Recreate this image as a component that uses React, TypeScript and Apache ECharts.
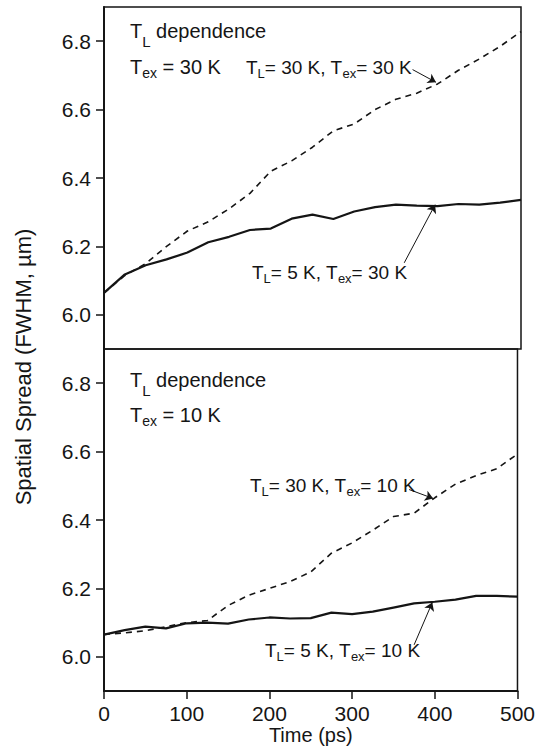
import { useEffect, useRef } from "react";
import * as echarts from "echarts";

// Time axis (ps), sampled every 25 ps
const timePs = [0, 25, 50, 75, 100, 125, 150, 175, 200, 225, 250, 275, 300, 325, 350, 375, 400, 425, 450, 475, 500];

// Upper panel, T_ex = 30 K
const tl30Tex30 = [6.064, 6.115, 6.15, 6.2, 6.245, 6.272, 6.31, 6.355, 6.42, 6.45, 6.49, 6.538, 6.558, 6.6, 6.63, 6.648, 6.675, 6.715, 6.748, 6.785, 6.828];
const tl5Tex30 = [6.064, 6.118, 6.145, 6.162, 6.182, 6.212, 6.228, 6.248, 6.252, 6.281, 6.293, 6.28, 6.302, 6.315, 6.322, 6.319, 6.318, 6.324, 6.322, 6.328, 6.336];

// Lower panel, T_ex = 10 K
const tl30Tex10 = [6.065, 6.07, 6.076, 6.088, 6.1, 6.106, 6.15, 6.18, 6.2, 6.22, 6.248, 6.303, 6.333, 6.37, 6.41, 6.42, 6.465, 6.505, 6.53, 6.55, 6.593];
const tl5Tex10 = [6.065, 6.078, 6.088, 6.083, 6.098, 6.1, 6.097, 6.109, 6.115, 6.112, 6.113, 6.129, 6.125, 6.132, 6.144, 6.156, 6.161, 6.167, 6.178, 6.178, 6.176];

// Tick values
const yTickValues = [6.0, 6.2, 6.4, 6.6, 6.8];
const yRange = [5.9, 6.9];
const xRange = [0, 500];
const xInterval = 100;

// Arrow annotations: [start, tip] in data coordinates
const arrowTl30Tex30 = [[370, 6.717], [398, 6.68]];
const arrowTl5Tex30 = [[360, 6.152], [397, 6.322]];
const arrowTl30Tex10 = [[369, 6.489], [398, 6.463]];
const arrowTl5Tex10 = [[375, 6.035], [397, 6.159]];

const FONT = "'Liberation Sans', Arial, Helvetica, sans-serif";
const INK = "#151515";

const toPoints = (ys: number[]) => timePs.map((t, i) => [t, ys[i]]);

const richStyles = {
  m: { fontSize: 20, fontFamily: FONT, fill: INK },
  s: { fontSize: 14, fontFamily: FONT, fill: INK, padding: [12, 0, 0, 0] },
  sl: { fontSize: 15, fontFamily: FONT, fill: INK, padding: [20, 0, 0, 0] },
  c: { fontSize: 19, fontFamily: FONT, fill: INK },
  cs: { fontSize: 13, fontFamily: FONT, fill: INK, padding: [12, 0, 0, 0] },
};

function label(x: number, y: number, text: string) {
  return {
    type: "text",
    x,
    y,
    silent: true,
    style: {
      text,
      rich: richStyles,
      fill: INK,
      font: `20px ${FONT}`,
      textAlign: "left",
      textVerticalAlign: "middle",
    },
  };
}

// Curve label of the form "T_L= a K, T_ex= b K"
function curveLabel(x: number, y: number, tl: string, tex: string) {
  return label(x, y, `{c|T}{cs|L}{c|= ${tl} K, T}{cs|ex}{c|= ${tex} K}`);
}

function arrow(pts: number[][]) {
  return {
    silent: true,
    symbol: ["none", "arrow"],
    symbolSize: 8,
    label: { show: false },
    lineStyle: { type: "solid", width: 1, color: INK },
    emphasis: { disabled: true },
    data: [[{ coord: pts[0] }, { coord: pts[1] }]],
  };
}

function yAxisFor(gridIndex: number) {
  return {
    type: "value",
    gridIndex,
    min: yRange[0],
    max: yRange[1],
    axisLine: { show: true, lineStyle: { color: INK, width: 2 } },
    axisTick: {
      show: true,
      inside: false,
      length: 8,
      customValues: yTickValues,
      lineStyle: { color: INK, width: 1.5 },
    },
    axisLabel: {
      customValues: yTickValues,
      formatter: (v: number) => v.toFixed(1),
      margin: 13,
      color: INK,
      fontSize: 21,
      fontFamily: FONT,
    },
    splitLine: { show: false },
  };
}

function curve(data: number[], idx: number, dashed: boolean, mark: number[][]) {
  return {
    type: "line",
    xAxisIndex: idx,
    yAxisIndex: idx,
    data: toPoints(data),
    showSymbol: false,
    symbol: "none",
    silent: true,
    lineStyle: dashed
      ? { color: INK, width: 1.6, type: [6, 5] }
      : { color: INK, width: 2.2, type: "solid" },
    markLine: arrow(mark),
    z: 3,
  };
}

export default function App() {
  const ref = useRef<HTMLDivElement>(null);

  useEffect(() => {
    if (!ref.current) return;
    const chart = echarts.init(ref.current, undefined, { renderer: "svg" });
    chart.setOption({
      animation: false,
      backgroundColor: "#ffffff",
      grid: [
        { left: 104, right: 17, top: 7, height: 342, show: true, borderColor: INK, borderWidth: 1.5, backgroundColor: "transparent" },
        { left: 104, right: 17, top: 349, height: 342, show: true, borderColor: INK, borderWidth: 1.5, backgroundColor: "transparent" },
      ],
      xAxis: [
        {
          type: "value",
          gridIndex: 0,
          min: xRange[0],
          max: xRange[1],
          interval: xInterval,
          axisLine: { show: false },
          axisTick: { show: false },
          axisLabel: { show: false },
          splitLine: { show: false },
        },
        {
          type: "value",
          gridIndex: 1,
          min: xRange[0],
          max: xRange[1],
          interval: xInterval,
          name: "Time (ps)",
          nameLocation: "middle",
          nameGap: 30,
          nameTextStyle: { color: INK, fontSize: 20, fontFamily: FONT },
          axisLine: { show: true, onZero: false, lineStyle: { color: INK, width: 2 } },
          axisTick: { show: true, inside: false, length: 8, lineStyle: { color: INK, width: 1.5 } },
          axisLabel: { color: INK, fontSize: 21, fontFamily: FONT, margin: 12, showMinLabel: true, showMaxLabel: true },
          splitLine: { show: false },
        },
      ],
      yAxis: [yAxisFor(0), yAxisFor(1)],
      series: [
        curve(tl30Tex30, 0, true, arrowTl30Tex30),
        curve(tl5Tex30, 0, false, arrowTl5Tex30),
        curve(tl30Tex10, 1, true, arrowTl30Tex10),
        curve(tl5Tex10, 1, false, arrowTl5Tex10),
      ],
      graphic: [
        {
          type: "text",
          x: 23,
          y: 367,
          rotation: Math.PI / 2,
          silent: true,
          style: {
            text: "Spatial Spread (FWHM, µm)",
            fill: INK,
            font: `22px ${FONT}`,
            textAlign: "center",
            textVerticalAlign: "middle",
          },
        },
        label(130, 31, "{m|T}{sl|L}{m| dependence}"),
        label(130, 67, "{m|T}{s|ex}{m| = 30 K}"),
        curveLabel(246, 67, "30", "30"),
        curveLabel(252, 272, "5", "30"),
        label(130, 380, "{m|T}{sl|L}{m| dependence}"),
        label(130, 415, "{m|T}{s|ex}{m| = 10 K}"),
        curveLabel(250, 485, "30", "10"),
        curveLabel(265, 650, "5", "10"),
      ],
    });
    return () => chart.dispose();
  }, []);

  return (
    <div
      ref={ref}
      style={{ position: "fixed", left: 0, top: 0, width: 538, height: 756, background: "#fff" }}
    />
  );
}
